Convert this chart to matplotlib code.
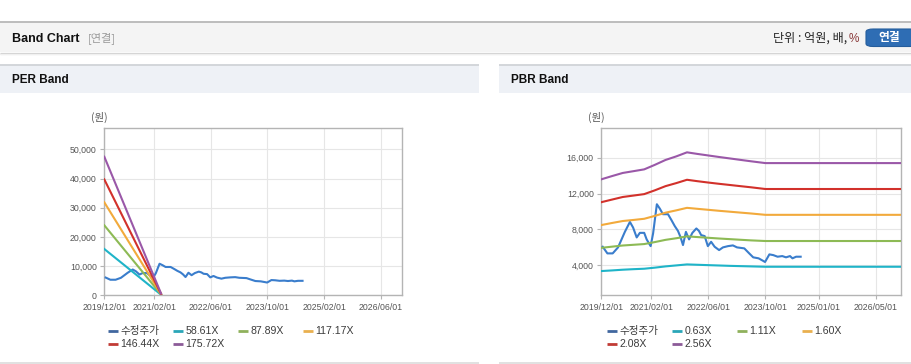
import matplotlib
matplotlib.use('Agg')
import matplotlib.pyplot as plt
import pandas as pd
from matplotlib.patches import Rectangle, FancyBboxPatch
from matplotlib.lines import Line2D
from matplotlib.ticker import FuncFormatter

# ---------------- data ----------------
price_dates = ['2019-12-13', '2020-01-22', '2020-03-07', '2020-04-22', '2020-06-19', '2020-08-01',
               '2020-08-28', '2020-09-28', '2020-10-25', '2020-12-01', '2020-12-22', '2021-01-25',
               '2021-02-15', '2021-03-19', '2021-04-13', '2021-05-10', '2021-06-22', '2021-07-22',
               '2021-08-19', '2021-09-15', '2021-10-06', '2021-10-28', '2021-11-22', '2021-12-19',
               '2022-01-16', '2022-02-19', '2022-03-13', '2022-04-01', '2022-05-01', '2022-05-28',
               '2022-06-25', '2022-07-25', '2022-09-01', '2022-10-04', '2022-11-16', '2022-12-28',
               '2023-02-01', '2023-04-04', '2023-05-16', '2023-06-19', '2023-08-04', '2023-09-10',
               '2023-09-28', '2023-11-04', '2023-12-07', '2024-01-13', '2024-02-22', '2024-03-25',
               '2024-04-28', '2024-05-19', '2024-06-19', '2024-07-28']
price_values = [6070, 5330, 5330, 6000, 7730, 8840,
                8220, 7110, 7620, 7620, 6890, 6140,
                7560, 10810, 10330, 9700, 9700, 9030,
                8370, 7840, 7180, 6260, 7730, 6890,
                7620, 8110, 7840, 7370, 7260, 6140,
                6620, 6070, 5700, 6000, 6140, 6220,
                6000, 5890, 5330, 4890, 4780, 4510,
                4370, 5220, 5140, 4960, 5030, 4890,
                5030, 4780, 4960, 4960]

per_band_dates = ['2019-12-01', '2021-04-01']
per_band_labels = ['58.61X', '87.89X', '117.17X', '146.44X', '175.72X']
per_band_1 = [15860, 200]
per_band_2 = [23970, 300]
per_band_3 = [31850, 400]
per_band_4 = [39700, 500]
per_band_5 = [47470, 600]

pbr_band_dates = ['2019-12-01', '2020-03-01', '2020-06-01', '2020-09-01', '2020-12-01', '2021-03-01',
                  '2021-06-01', '2021-09-01', '2021-12-01', '2022-03-01', '2022-06-01', '2022-09-01',
                  '2022-12-01', '2023-03-01', '2023-06-01', '2023-10-01', '2026-12-01']
pbr_band_labels = ['0.63X', '1.11X', '1.60X', '2.08X', '2.56X']
pbr_band_1 = [3360, 3430, 3510, 3570, 3620, 3740, 3880, 3990, 4100, 4060, 4020, 3980, 3940, 3910, 3880, 3840, 3840]
pbr_band_2 = [5950, 6080, 6210, 6290, 6370, 6590, 6840, 7020, 7230, 7150, 7070, 6990, 6920, 6850, 6780, 6710, 6710]
pbr_band_3 = [8490, 8720, 8940, 9060, 9190, 9510, 9870, 10130, 10410, 10300, 10190, 10080, 9980, 9880, 9780, 9630, 9630]
pbr_band_4 = [11040, 11330, 11620, 11780, 11940, 12360, 12830, 13170, 13540, 13380, 13230, 13090, 12960, 12830, 12700, 12510, 12510]
pbr_band_5 = [13590, 13950, 14300, 14500, 14700, 15200, 15750, 16150, 16600, 16420, 16250, 16080, 15920, 15760, 15600, 15400, 15400]

price_label = '수정주가'

per_xticks = ['2019-12-01', '2021-02-01', '2022-06-01', '2023-10-01', '2025-02-01', '2026-06-01']
per_xtick_labels = ['2019/12/01', '2021/02/01', '2022/06/01', '2023/10/01', '2025/02/01', '2026/06/01']
pbr_xticks = ['2019-12-01', '2021-02-01', '2022-06-01', '2023-10-01', '2025-01-01', '2026-05-01']
pbr_xtick_labels = ['2019/12/01', '2021/02/01', '2022/06/01', '2023/10/01', '2025/01/01', '2026/05/01']
per_yticks = [0, 10000, 20000, 30000, 40000, 50000]
pbr_yticks = [4000, 8000, 12000, 16000]

# ---------------- style ----------------
price_color = '#3a7dcc'
band_colors = ['#1fb4c8', '#8dba55', '#f2aa3c', '#d2312b', '#9a58a8']
legend_price_color = '#41679f'
legend_band_colors = ['#2aa6b8', '#8fb15c', '#e9b04f', '#c13b35', '#8c5b98']
KR = ['Noto Sans CJK KR', 'DejaVu Sans']
SANS = ['Liberation Sans', 'DejaVu Sans']

W, H = 912, 364
fig = plt.figure(figsize=(W / 100, H / 100), dpi=100)
fig.patch.set_facecolor('white')


def fx(x):
    return x / W


def fy(y):
    return 1 - y / H


def rect(x0, y0, x1, y1, color, z=0):
    fig.add_artist(Rectangle((fx(x0), fy(y1)), (x1 - x0) / W, (y1 - y0) / H,
                             transform=fig.transFigure, facecolor=color, edgecolor='none', zorder=z))


def hline(x0, x1, y, color, lw=1.0):
    fig.add_artist(Line2D([fx(x0), fx(x1)], [fy(y), fy(y)], transform=fig.transFigure,
                          color=color, lw=lw, solid_capstyle='butt'))


# top header
hline(0, W, 21.5, '#b8b8b8', 1.3)
rect(0, 22, W, 52, '#f4f4f4')
hline(0, W, 52.6, '#d0d0d0', 0.9)
hline(0, W, 53.5, '#e2e2e2', 0.9)
hline(0, W, 54.4, '#f0f0f0', 0.9)
fig.text(fx(12), fy(38.5), 'Band Chart', fontsize=9, fontweight='bold', family=SANS,
         color='#111111', va='center', ha='left')
fig.text(fx(88), fy(38.5), '[연결]', fontsize=8, family=KR, color='#9a9a9a', va='center', ha='left')
fig.text(fx(850), fy(38.5), '단위 : 억원, 배, ', fontsize=8.7, family=KR, color='#222222',
         va='center', ha='right')
fig.text(fx(859.5), fy(38.5), '%', fontsize=8.5, family=SANS, color='#8a3a3a', va='center', ha='right')
fig.add_artist(FancyBboxPatch((fx(866), fy(46.5)), (W + 5 - 866) / W, 17.5 / H,
                              boxstyle='round,pad=0,rounding_size=0.008', transform=fig.transFigure,
                              facecolor='#2e6db4', edgecolor='#255d9c', lw=0.8))
fig.text(fx(889), fy(37.8), '연결', fontsize=8.5, family=KR, fontweight='bold', color='white',
         va='center', ha='center')

# panel headers
for (x0, x1, title) in [(0, 479, 'PER Band'), (499, W, 'PBR Band')]:
    rect(x0, 65, x1, 92.5, '#eef1f6')
    hline(x0, x1, 64.6, '#d3d6da', 1.4)
    hline(x0, x1, 362.8, '#dcdcdc', 1.2)
    fig.text(fx(x0 + 12), fy(80), title, fontsize=8.5, fontweight='bold', family=SANS,
             color='#111111', va='center', ha='left')


def style_axes(ax, xticks, xlabels, yticks, ylim):
    ax.set_facecolor('white')
    ax.set_xlim(pd.Timestamp('2019-12-01'), pd.Timestamp('2026-12-01'))
    ax.set_ylim(*ylim)
    ax.set_xticks(pd.to_datetime(xticks))
    ax.set_xticklabels(xlabels)
    ax.set_yticks(yticks)
    ax.yaxis.set_major_formatter(FuncFormatter(lambda v, p: f'{v:,.0f}'))
    ax.grid(True, color='#e6e6e6', lw=0.8)
    ax.set_axisbelow(True)
    for s in ax.spines.values():
        s.set_color('#b4b4b4')
        s.set_linewidth(1.0)
    ax.tick_params(axis='both', colors='#b4b4b4', labelcolor='#555555', labelsize=6.3,
                   length=3, width=0.8, pad=2.5)
    for lab in ax.get_xticklabels() + ax.get_yticklabels():
        lab.set_family(SANS)


def draw_legend(x0, labels):
    cols = [x0, x0 + 65, x0 + 130, x0 + 195]
    items = [(price_label, legend_price_color)] + list(zip(labels, legend_band_colors))
    for i, (lab, col) in enumerate(items):
        r, c = divmod(i, 4)
        y = 330.7 + r * 13.5
        x = cols[c]
        fig.add_artist(Line2D([fx(x), fx(x + 10.5)], [fy(y), fy(y)], transform=fig.transFigure,
                              color=col, lw=2.0, solid_capstyle='butt'))
        fam = KR if i == 0 else SANS
        fig.text(fx(x + 12.5), fy(y), lab, fontsize=7.6, family=fam, color='#3c3c3c',
                 va='center', ha='left')


# PER axes
ax1 = fig.add_axes([104.3 / W, (H - 295.3) / H, 298 / W, 167 / H])
style_axes(ax1, per_xticks, per_xtick_labels, per_yticks, (0, 57200))
per_bands = [per_band_1, per_band_2, per_band_3, per_band_4, per_band_5]
ax1.plot(pd.to_datetime(price_dates), price_values, color=price_color, lw=1.5, zorder=3)
for vals, col in zip(per_bands, band_colors):
    ax1.plot(pd.to_datetime(per_band_dates), vals, color=col, lw=1.5, zorder=3)
fig.text(fx(99), fy(117), '(원)', fontsize=7.5, family=KR, color='#555555', va='center', ha='center')
draw_legend(107.7, per_band_labels)

# PBR axes
ax2 = fig.add_axes([601.3 / W, (H - 295) / H, 299.7 / W, 166.7 / H])
style_axes(ax2, pbr_xticks, pbr_xtick_labels, pbr_yticks, (690, 19280))
pbr_bands = [pbr_band_1, pbr_band_2, pbr_band_3, pbr_band_4, pbr_band_5]
ax2.plot(pd.to_datetime(price_dates), price_values, color=price_color, lw=1.5, zorder=3)
for vals, col in zip(pbr_bands, band_colors):
    ax2.plot(pd.to_datetime(pbr_band_dates), vals, color=col, lw=1.5, zorder=3)
fig.text(fx(596.7), fy(117), '(원)', fontsize=7.5, family=KR, color='#555555', va='center', ha='center')
draw_legend(606.7, pbr_band_labels)

fig.savefig('out.png', dpi=100, facecolor='white')
